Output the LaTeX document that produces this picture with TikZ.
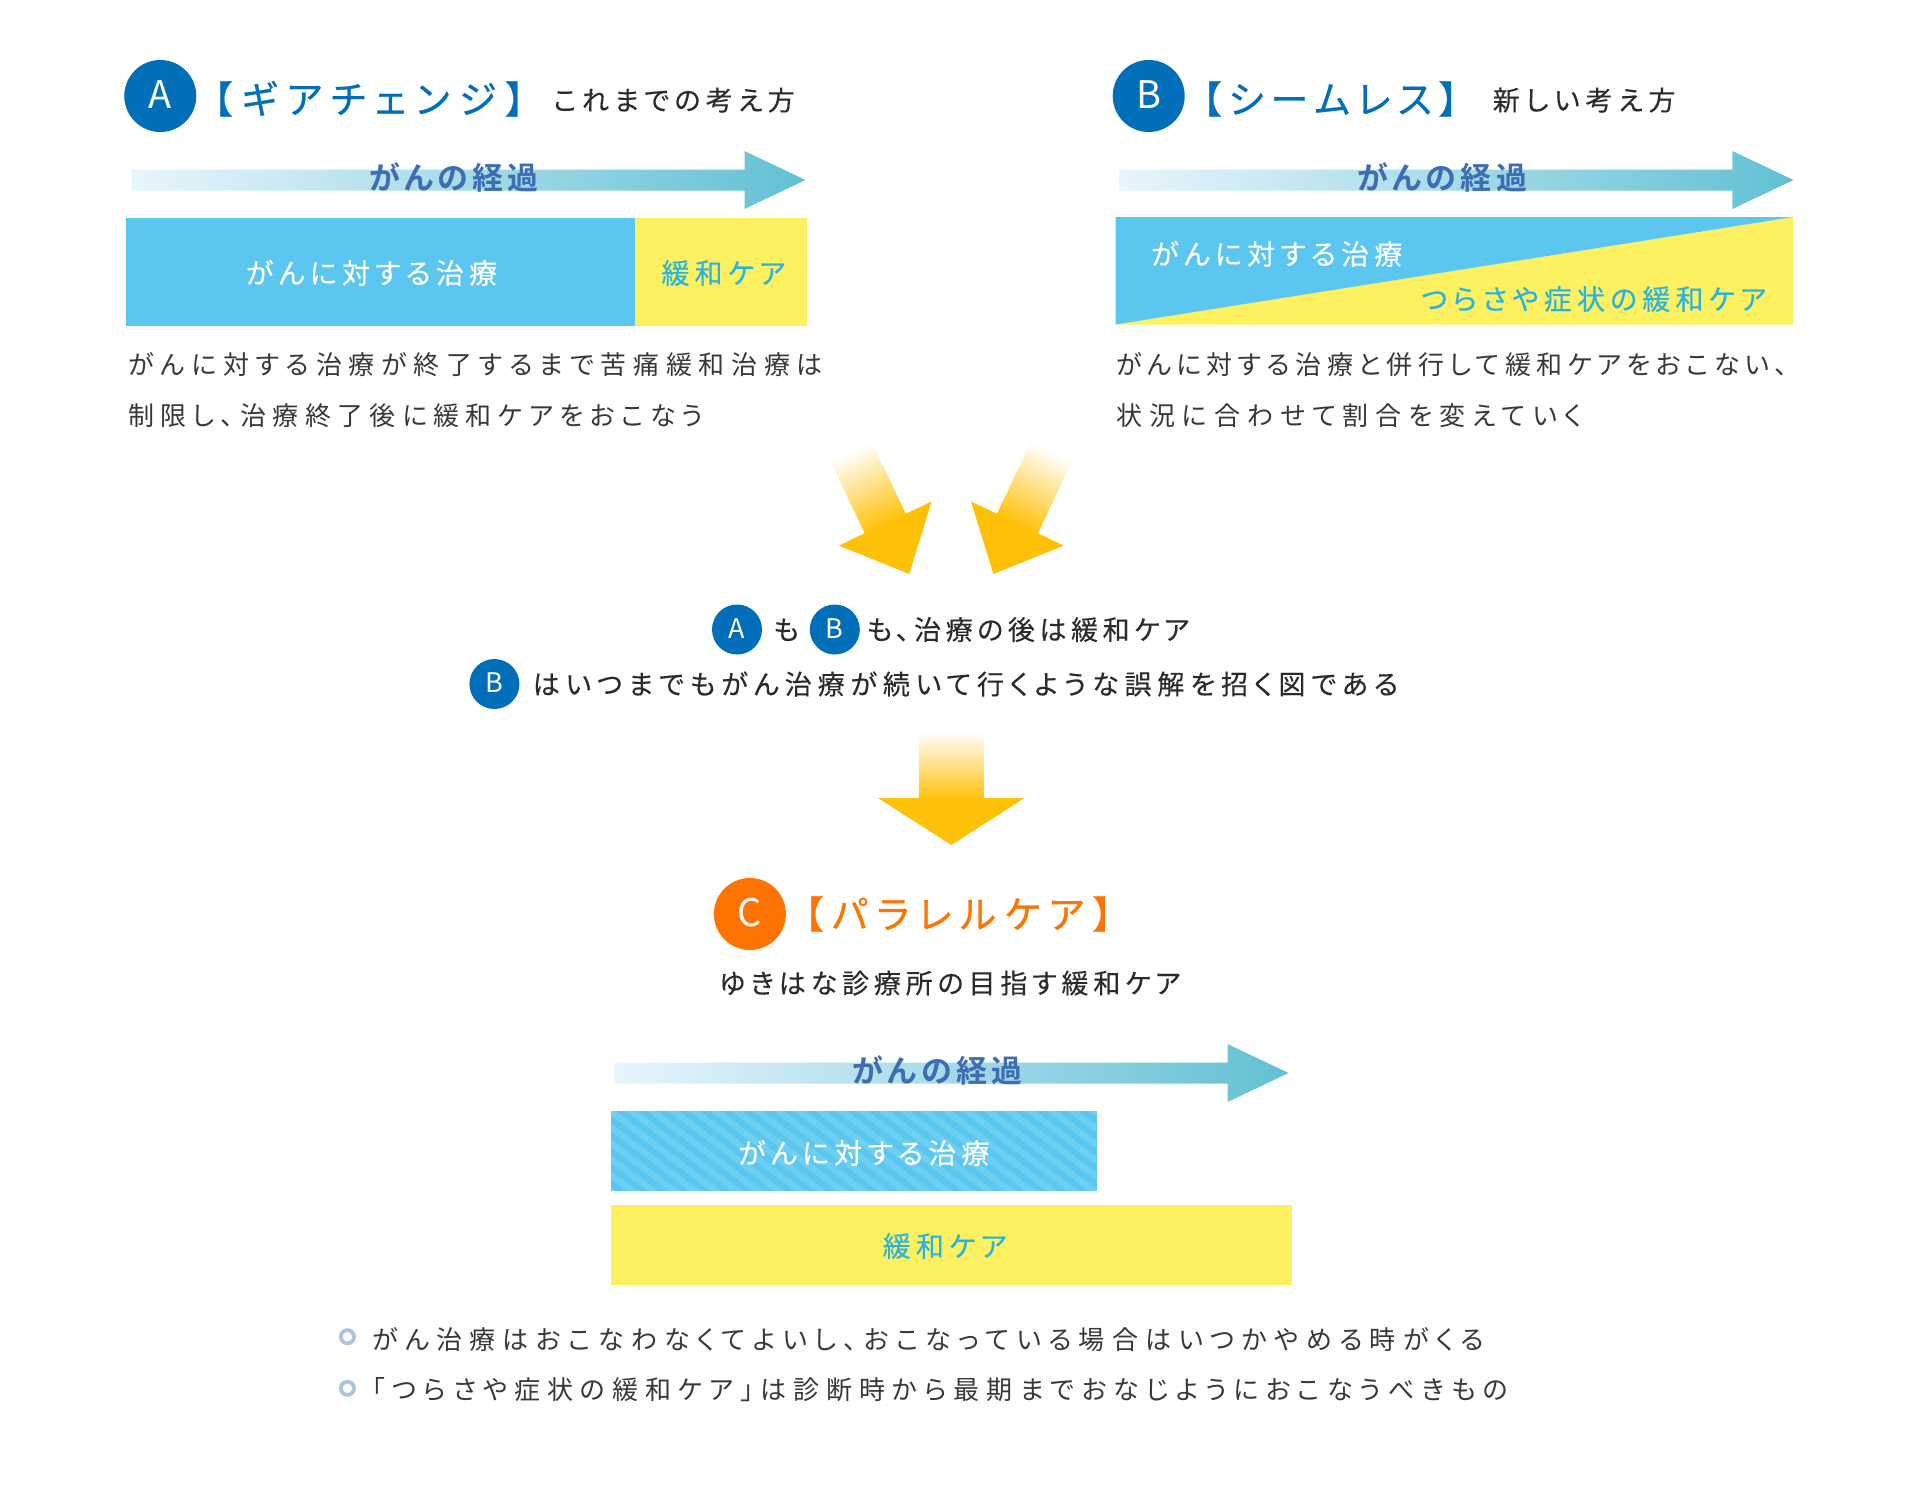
\documentclass[tikz,border=0pt]{standalone}
\usepackage{fontspec}
\usetikzlibrary{positioning}
\setmainfont{Noto Sans CJK JP}
\newfontfamily\bodyfont[RawFeature=+palt]{Noto Sans CJK JP}
\newfontfamily\leadfont[RawFeature=+palt,FakeBold=0.25]{Noto Sans CJK JP}
\newfontfamily\headfont[RawFeature=+palt,FakeBold=0.6]{Noto Sans CJK JP}
\newfontfamily\keikafont[RawFeature=+palt,LetterSpace=14]{Noto Sans CJK JP Bold}
\definecolor{circblue}{HTML}{006EB8}
\definecolor{circorange}{HTML}{FF7300}
\definecolor{barblue}{HTML}{5BC6EF}
\definecolor{barstripe}{HTML}{6DD0F2}
\definecolor{baryellow}{HTML}{FDF061}
\definecolor{careblue}{HTML}{29B3DF}
\definecolor{keikablue}{HTML}{3F6DB5}
\definecolor{textdark}{HTML}{2B2B2B}
\definecolor{textgray}{HTML}{383838}
\definecolor{arrowgold}{HTML}{FFC107}
\definecolor{arrowfrom}{HTML}{E8F5FC}
\definecolor{arrowmid}{HTML}{B4E0F0}
\definecolor{arrowto}{HTML}{62C0D4}
\definecolor{ringblue}{HTML}{AFC3DD}
\pgfdeclareverticalshading{goldfade}{100bp}{color(0bp)=(arrowgold); color(25bp)=(arrowgold); color(45bp)=(arrowgold); color(75bp)=(white); color(100bp)=(white)}
\tikzset{
  badge/.style={circle, fill=circblue, text=white, inner sep=0pt, minimum size=#1},
  bodytext/.style={font=\bodyfont\addfontfeature{LetterSpace=#1}\fontsize{26}{26}\selectfont, text=textgray, inner sep=0pt, anchor=west, text height=22.9pt, text depth=3.1pt},
  leadtext/.style={font=\leadfont\addfontfeature{LetterSpace=#1}\fontsize{27}{27}\selectfont, text=textdark, inner sep=0pt, anchor=west, text height=23.8pt, text depth=3.2pt},
  headtext/.style={font=\headfont\addfontfeature{LetterSpace=#1}\fontsize{38}{38}\selectfont, text=circblue, inner sep=0pt, anchor=west, text height=33.4pt, text depth=4.6pt},
  bartext/.style={font=\leadfont\addfontfeature{LetterSpace=18.5}\fontsize{28}{28}\selectfont, text=white, inner sep=0pt, text height=24.6pt, text depth=3.4pt},
  keikatext/.style={font=\keikafont\fontsize{31}{31}\selectfont, text=keikablue, inner sep=0pt, text height=27.3pt, text depth=3.7pt},
  ringmark/.style={circle, draw=ringblue, line width=3.8pt, fill=white, inner sep=0pt, minimum size=13.2pt},
}
\begin{document}
\begin{tikzpicture}[x=1pt, y=-1pt]
  \useasboundingbox[fill=white] (0,0) rectangle (1930,1484);
  % kept to the three sections: A, B, C
  \foreach \ax/\ay/\lx/\ly/\nm in {131.5/180/454/178/A, 1119.4/180/1442/178/B, 614.5/1073/937.4/1071/C} {
    \shade[left color=arrowfrom, middle color=arrowmid, right color=arrowto]
      (\ax,\ay-10.5) -- ++(613,0) -- ++(0,-18.5) -- ++(61,29) -- ++(-61,29) -- ++(0,-18.5) -- ++(-613,0) -- cycle;
    \node (keika\nm) [keikatext] at (\lx,\ly) {がんの経過};
  }

  % A
  \node (circA) [badge=72pt, text depth=3pt, font=\fontsize{38}{38}\selectfont] at (160.3,96) {A};
  \node (headA) [headtext=25] at (213,99) {【ギアチェンジ】};
  \node (subA) [leadtext=19.5] at (553,100) {これまでの考え方};
  \fill[barblue] (126,218) rectangle (634.7,326);
  \fill[baryellow] (634.7,218) rectangle (806.7,326);
  \node (cureA) [bartext] at (371.5,273) {がんに対する治療};
  \node (careA) [bartext, text=careblue] at (723.4,273) {緩和ケア};
  \node (lineAa) [bodytext=25.8] at (128,365) {がんに対する治療が終了するまで苦痛緩和治療は};
  \node (lineAb) [bodytext=24.4] at (128,415.5) {制限し、治療終了後に緩和ケアをおこなう};

  % B
  \node (circB) [badge=72pt, text depth=3pt, font=\fontsize{38}{38}\selectfont] at (1148.7,96) {B};
  \node (headB) [headtext=19] at (1202,99) {【シームレス】};
  \node (subB) [leadtext=21.5] at (1492.6,100) {新しい考え方};
  \fill[baryellow] (1115.5,324.5) -- (1793.2,217) -- (1793.2,324.5) -- cycle;
  \fill[barblue] (1115.5,217) -- (1793.2,217) -- (1115.5,324.5) -- cycle;
  \node (cureB) [bartext] at (1276.7,254) {がんに対する治療};
  \node (careB) [bartext, text=careblue] at (1593.7,299) {つらさや症状の緩和ケア};
  \node (lineBa) [bodytext=20.5] at (1116,365) {がんに対する治療と併行して緩和ケアをおこない、};
  \node (lineBb) [bodytext=26.7] at (1116,415.5) {状況に合わせて割合を変えていく};

  % gold arrows
  \begin{scope}[transform canvas={shift={(909.2,574)}, rotate=25.4}]
    \shade[shading=goldfade] (-22.7,-55.9) -- (-22.7,-136) -- (22.7,-136) -- (22.7,-55.9) -- (51.4,-55.9) -- (0,0) -- (-51.4,-55.9) -- cycle;
  \end{scope}
  \begin{scope}[transform canvas={shift={(993.4,574)}, rotate=-25.4}]
    \shade[shading=goldfade] (-22.7,-55.9) -- (-22.7,-136) -- (22.7,-136) -- (22.7,-55.9) -- (51.4,-55.9) -- (0,0) -- (-51.4,-55.9) -- cycle;
  \end{scope}
  \shade[shading=goldfade] (918.8,798) -- (918.8,732) -- (983.8,732) -- (983.8,798) -- (1024.6,798) -- (951.3,845) -- (878,798) -- cycle;

  % middle text
  \node (midA) [badge=50pt, text depth=2pt, font=\fontsize{27}{27}\selectfont] at (737,629.5) {A};
  \node (moA) [leadtext=16, right=11pt of midA] {も};
  \node (midB) [badge=50pt, text depth=2pt, font=\fontsize{27}{27}\selectfont] at (834.8,629.5) {B};
  \node (moB) [leadtext=17, right=6.5pt of midB] {も、治療の後は緩和ケア};
  \node (wrongB) [badge=50pt, text depth=2pt, font=\fontsize{27}{27}\selectfont] at (494.4,684) {B};
  \node (wrongline) [leadtext=21.8, right=13pt of wrongB] {はいつまでもがん治療が続いて行くような誤解を招く図である};

  % C
  \node (circC) [badge=72pt, text depth=3pt, fill=circorange, font=\fontsize{38}{38}\selectfont] at (749.9,914) {C};
  \node (headC) [headtext=23, text=circorange] at (804,914) {【パラレルケア】};
  \node (leadC) [leadtext=18, anchor=center] at (950,983) {ゆきはな診療所の目指す緩和ケア};

  \begin{scope}
    \clip (611,1111) rectangle (1097,1196);
    \fill[barblue] (611,1111) rectangle (1097,1196);
    \foreach \sx in {499,520,...,1110}
      \fill[barstripe] (\sx,1110) -- ++(10.5,0) -- ++(116,88) -- ++(-10.5,0) -- cycle;
  \end{scope}
  \fill[white] (605,1190.7) rectangle (1105,1198);
  \node (cureC) [bartext] at (863.8,1153) {がんに対する治療};
  \fill[baryellow] (611,1204.5) rectangle (1291.8,1284.5);
  \node (careC) [bartext, text=careblue] at (944.7,1246) {緩和ケア};

  \node (markA) [ringmark] at (347.4,1336.7) {};
  \node (noteA) [bodytext=27.9] at (372,1340) {がん治療はおこなわなくてよいし、おこなっている場合はいつかやめる時がくる};
  \node (markB) [ringmark] at (347.4,1388.3) {};
  \node (noteB) [bodytext=26.7] at (372,1390) {「つらさや症状の緩和ケア」は診断時から最期までおなじようにおこなうべきもの};
\end{tikzpicture}
\end{document}
